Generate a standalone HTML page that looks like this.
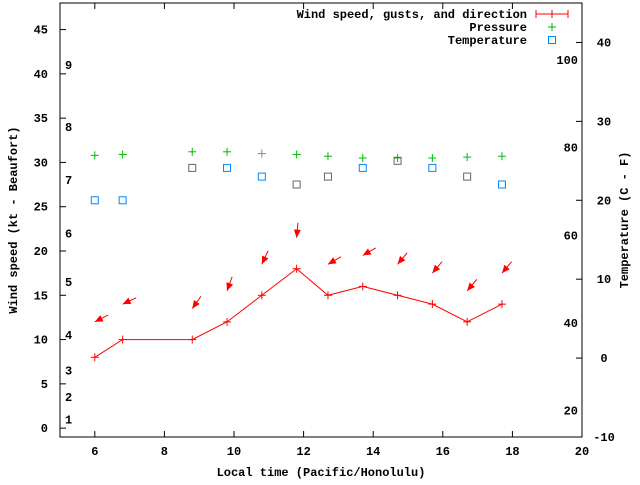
<!DOCTYPE html>
<html><head><meta charset="utf-8"><style>
body{margin:0;background:#fff}
text{font-family:"Liberation Mono",monospace;font-size:12px;font-weight:bold;fill:#000}
</style></head><body>
<svg id="c" width="640" height="480" xmlns="http://www.w3.org/2000/svg">
<rect x="0" y="0" width="640" height="480" fill="#fff"/>
</svg>
<script>
const times=[6.0,6.8,8.8,9.8,10.8,11.8,12.7,13.7,14.7,15.7,16.7,17.7];
const wind=[8,10,10,12,15,18,15,16,15,14,12,14];
const gusts=[12,14,13.5,15.5,18.5,21.5,18.5,19.5,18.5,17.5,15.5,17.5];
const dirs=[63,65,35,20,25,5,60,60,40,40,40,40];
const pressure=[30.8,30.9,31.2,31.2,31.0,30.9,30.7,30.5,30.5,30.5,30.6,30.7];
const temps=[20,20,24.1,24.1,23,22,23,24.1,25,24.1,23,22];
const tempGrey=[0,0,1,0,0,1,1,0,1,0,1,0];
const xTicks=[6,8,10,12,14,16,18,20];
const yTicks=[0,5,10,15,20,25,30,35,40,45];
const y2Ticks=[-10,0,10,20,30,40];
const fTicks=[20,40,60,80,100];
const bft=[[1,1],[2,3.5],[3,6.5],[4,10.5],[5,16.5],[6,22],[7,28],[8,34],[9,41]];
const L=60,R=582,T=3,B=437;
const X=v=>L+(v-5)*(R-L)/15;
const Y=v=>B-(v+1)*(B-T)/49;
const Y2=v=>B-(v+10)*(B-T)/55;
const svg=document.getElementById('c');
const NS='http://www.w3.org/2000/svg';
function mk(t,a,p){const e=document.createElementNS(NS,t);for(const k in a)e.setAttribute(k,a[k]);(p||svg).appendChild(e);return e;}
function txt(x,y,s,anchor,name){const e=mk('text',{x:x,y:y,'text-anchor':anchor||'middle'});e.textContent=s;

return e;}
const frame=mk('rect',{x:L,y:T,width:R-L,height:B-T,fill:'none',stroke:'#000'});


xTicks.forEach(v=>{mk('line',{x1:X(v),x2:X(v),y1:B,y2:B-6,stroke:'#000'});mk('line',{x1:X(v),x2:X(v),y1:T,y2:T+6,stroke:'#000'});txt(X(v),B+18,String(v),'middle','x-tick-label');});
yTicks.forEach(v=>{mk('line',{x1:L,x2:L+6,y1:Y(v),y2:Y(v),stroke:'#000'});txt(L-12,Y(v)+4,String(v),'end','y-tick-label');});
y2Ticks.forEach(v=>{mk('line',{x1:R,x2:R-6,y1:Y2(v),y2:Y2(v),stroke:'#000'});txt(R+22,Y2(v)+4,String(v),'middle','y2-tick-label');});
fTicks.forEach(v=>{const c=(v-32)*5/9;txt(R-4,Y2(c)+4,String(v),'end','fahrenheit-label');});
bft.forEach(b=>{txt(65,Y(b[1])+4,String(b[0]),'start','beaufort-label');});
const xt=txt((L+R)/2,476,'Local time (Pacific/Honolulu)','middle','x-axis-title');
const yt=txt(0,0,'Wind speed (kt - Beaufort)','middle','y-axis-title');yt.setAttribute('transform','translate(17,220) rotate(-90)');
const y2t=txt(0,0,'Temperature (C - F)','middle','y2-axis-title');y2t.setAttribute('transform','translate(628,220) rotate(-90)');
// wind line
const pl=mk('polyline',{points:times.map((t,i)=>X(t)+','+Y(wind[i])).join(' '),fill:'none',stroke:'#f00'});


function plus(x,y,col,name){const g=mk('g',{stroke:col});mk('line',{x1:x-4,x2:x+4,y1:y,y2:y},g);mk('line',{x1:x,x2:x,y1:y-4,y2:y+4},g);

}
times.forEach((t,i)=>plus(X(t),Y(wind[i]),'#f00','wind-point'));
// gust arrows
times.forEach((t,i)=>{const hx=X(t),hy=Y(gusts[i]);const a=dirs[i]*Math.PI/180;const ux=Math.sin(a),uy=-Math.cos(a);
const g=mk('g',{});


mk('line',{x1:hx,y1:hy,x2:hx+ux*15,y2:hy+uy*15,stroke:'#f00'},g);
const px=-uy,py=ux;
mk('polygon',{points:`${hx},${hy} ${hx+ux*8+px*3.5},${hy+uy*8+py*3.5} ${hx+ux*8-px*3.5},${hy+uy*8-py*3.5}`,fill:'#f00'},g);});
// pressure
times.forEach((t,i)=>plus(X(t),Y(pressure[i]),i===4?'#888':'#0b0','pressure-point'));
// temperature
times.forEach((t,i)=>{const r=mk('rect',{x:X(t)-3.5,y:Y2(temps[i])-3.5,width:7,height:7,fill:'none',stroke:tempGrey[i]?'#666':'#08f'});

});
// legend
txt(527,18,'Wind speed, gusts, and direction','end','legend-wind');
const lg=mk('g',{stroke:'#f00'});mk('line',{x1:536,x2:568,y1:14,y2:14},lg);mk('line',{x1:536,x2:536,y1:10,y2:18},lg);mk('line',{x1:568,x2:568,y1:10,y2:18},lg);mk('line',{x1:552,x2:552,y1:10,y2:18},lg);


txt(527,31,'Pressure','end','legend-pressure');
plus(552,27,'#0b0','legend-pressure-key');
txt(527,44,'Temperature','end','legend-temperature');
const lr=mk('rect',{x:548.5,y:36.5,width:7,height:7,fill:'none',stroke:'#08f'});


</script>
</body></html>
